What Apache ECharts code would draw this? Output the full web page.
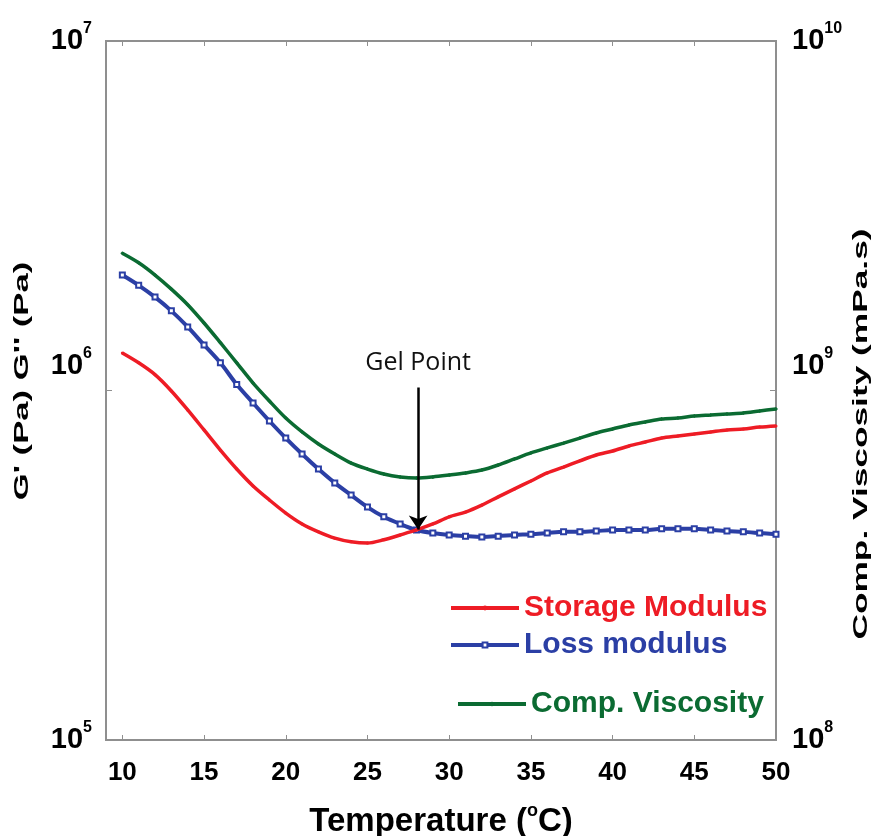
<!DOCTYPE html>
<html><head><meta charset="utf-8">
<script src="https://cdn.jsdelivr.net/npm/echarts@6/dist/echarts.min.js"></script>
<style>html,body{margin:0;padding:0;background:#fff}#c{width:878px;height:836px}</style>
</head><body><div id="c"></div>
<script>
// ---- data ----
const temperature = [10,11,12,13,14,15,16,17,18,19,20,21,22,23,24,25,26,27,28,29,30,31,32,33,34,35,36,37,38,39,40,41,42,43,44,45,46,47,48,49,50];
const storageModulus = [1.28e6,1.20e6,1.11e6,9.97e5,8.80e5,7.71e5,6.75e5,5.96e5,5.33e5,4.86e5,4.46e5,4.15e5,3.94e5,3.78e5,3.69e5,3.66e5,3.74e5,3.86e5,3.99e5,4.15e5,4.35e5,4.49e5,4.70e5,4.96e5,5.23e5,5.51e5,5.81e5,6.04e5,6.29e5,6.54e5,6.71e5,6.94e5,7.12e5,7.31e5,7.41e5,7.51e5,7.61e5,7.71e5,7.76e5,7.86e5,7.92e5];
const lossModulus = [2.14e6,2.00e6,1.85e6,1.69e6,1.52e6,1.35e6,1.20e6,1.04e6,9.21e5,8.18e5,7.31e5,6.58e5,5.96e5,5.44e5,5.02e5,4.64e5,4.35e5,4.15e5,3.99e5,3.91e5,3.86e5,3.83e5,3.81e5,3.83e5,3.86e5,3.88e5,3.91e5,3.94e5,3.94e5,3.96e5,3.99e5,3.99e5,3.99e5,4.02e5,4.02e5,4.02e5,3.99e5,3.96e5,3.94e5,3.91e5,3.88e5];
const complexViscosity = [2.47e9,2.32e9,2.14e9,1.95e9,1.76e9,1.56e9,1.37e9,1.20e9,1.05e9,9.33e8,8.34e8,7.61e8,7.03e8,6.58e8,6.20e8,5.96e8,5.77e8,5.66e8,5.62e8,5.66e8,5.73e8,5.81e8,5.92e8,6.12e8,6.37e8,6.63e8,6.85e8,7.07e8,7.31e8,7.56e8,7.76e8,7.97e8,8.13e8,8.29e8,8.34e8,8.45e8,8.51e8,8.57e8,8.62e8,8.74e8,8.85e8];
const xTickValues = [10,15,20,25,30,35,40,45,50];
const seriesNames = ['Storage Modulus','Loss modulus','Comp. Viscosity'];
const gelPointT = 28.1;
const gelArrowTop = 1.02e6;
const gelArrowTip = 4.0e5;

const RED = '#ee1c25', BLUE = '#2b3fa5', GREEN = '#0b6b32';
const FRAME = '#8f8f8f';
const FONT = "'Liberation Sans', Arial, sans-serif";

const pairs = ys => temperature.map((t, i) => [t, ys[i]]);

const supRich = {
  b: {fontSize: 29, fontWeight: 'bold', fontFamily: FONT, color: '#000', lineHeight: 40},
  s: {fontSize: 16, fontWeight: 'bold', fontFamily: FONT, color: '#000', verticalAlign: 'top'},
  g: {fontSize: 10, lineHeight: 50}
};
function powLabel(midExp) {
  return function (v) {
    const e = Math.round(Math.log10(v));
    return e === midExp ? '{b|10}{s|' + e + '}\n{g| }' : '{b|10}{s|' + e + '}';
  };
}

const chart = echarts.init(document.getElementById('c'), null, {renderer: 'canvas'});
chart.setOption({
  animation: false,
  backgroundColor: '#fff',
  grid: {left: 106, right: 102, top: 41, bottom: 96, containLabel: false, outerBoundsMode: 'none',
    show: true, borderColor: FRAME, borderWidth: 2, backgroundColor: 'transparent'},
  xAxis: [{
    type: 'value', min: 9, max: 50, position: 'bottom',
    axisLine: {show: true, lineStyle: {color: FRAME, width: 2}},
    axisTick: {show: true, inside: true, length: 5, customValues: xTickValues, lineStyle: {color: FRAME}},
    axisLabel: {customValues: xTickValues, margin: 20, fontSize: 26, fontWeight: 'bold', fontFamily: FONT, color: '#000'},
    splitLine: {show: false},
    name: 'Temperature ({o|o}C)', nameLocation: 'middle', nameGap: 62,
    nameTextStyle: {fontSize: 33, fontWeight: 'bold', fontFamily: FONT, color: '#000', lineHeight: 40,
      rich: {o: {fontSize: 18, fontWeight: 'bold', fontFamily: FONT, color: '#000', verticalAlign: 'top'}}}
  }, {
    type: 'value', min: 9, max: 50, position: 'top',
    axisLine: {show: true, lineStyle: {color: FRAME, width: 2}},
    axisTick: {show: true, inside: true, length: 5, customValues: xTickValues, lineStyle: {color: FRAME}},
    axisLabel: {show: false, customValues: xTickValues},
    splitLine: {show: false}
  }],
  yAxis: [{
    type: 'log', logBase: 10, min: 1e5, max: 1e7, position: 'left',
    axisLine: {show: true, lineStyle: {color: FRAME, width: 2}},
    axisTick: {show: true, inside: true, length: 6, lineStyle: {color: FRAME}},
    minorTick: {show: false}, splitLine: {show: false},
    axisLabel: {margin: 14, formatter: powLabel(6), rich: supRich}
  }, {
    type: 'log', logBase: 10, min: 1e8, max: 1e10, position: 'right',
    axisLine: {show: true, lineStyle: {color: FRAME, width: 2}},
    axisTick: {show: true, inside: true, length: 6, lineStyle: {color: FRAME}},
    minorTick: {show: false}, splitLine: {show: false},
    axisLabel: {margin: 16, formatter: powLabel(9), rich: supRich}
  }],
  legend: [
    {data: [{name: seriesNames[0], textStyle: {color: RED}}], left: 449, top: 592},
    {data: [{name: seriesNames[1], textStyle: {color: BLUE}}], left: 449, top: 629},
    {data: [{name: seriesNames[2], textStyle: {color: GREEN}}], left: 456, top: 688}
  ].map(l => Object.assign({
    orient: 'horizontal', itemWidth: 68, itemHeight: 6, padding: 0, selectedMode: false,
    lineStyle: {width: 4},
    textStyle: {fontSize: 30, fontWeight: 'bold', fontFamily: FONT, lineHeight: 32}
  }, l)),
  series: [{
    name: seriesNames[0], type: 'line', xAxisIndex: 0, yAxisIndex: 0, data: pairs(storageModulus),
    smooth: 0.3, symbol: 'circle', symbolSize: 3,
    lineStyle: {color: RED, width: 3.5}, itemStyle: {color: RED}, z: 3,
    markLine: {
      silent: true, animation: false,
      symbol: ['none', 'arrow'], symbolSize: 14,
      lineStyle: {color: '#000', width: 2.5, type: 'solid'},
      label: {show: true, position: 'start', formatter: 'Gel Point', distance: 12,
        fontSize: 25, fontFamily: "'Open Sans', 'Noto Sans', sans-serif", color: '#111'},
      emphasis: {disabled: true},
      data: [[{coord: [gelPointT, gelArrowTop]}, {coord: [gelPointT, gelArrowTip]}]]
    }
  }, {
    name: seriesNames[1], type: 'line', xAxisIndex: 0, yAxisIndex: 0, data: pairs(lossModulus),
    smooth: 0.3, symbol: 'emptyRect', symbolSize: 5,
    lineStyle: {color: BLUE, width: 4}, itemStyle: {color: BLUE, borderWidth: 1.2}, z: 2
  }, {
    name: seriesNames[2], type: 'line', xAxisIndex: 0, yAxisIndex: 1, data: pairs(complexViscosity),
    smooth: 0.3, symbol: 'diamond', symbolSize: 4,
    lineStyle: {color: GREEN, width: 3.5}, itemStyle: {color: GREEN}, z: 2
  }],
  graphic: [{
    type: 'text', x: 22, y: 381, rotation: Math.PI / 2, scaleX: 1.65,
    style: {text: "G' (Pa) G'' (Pa)", fontSize: 21, fontWeight: 'bold', fontFamily: FONT, fill: '#000', align: 'center', verticalAlign: 'middle'}
  }, {
    type: 'text', x: 861, y: 434, rotation: Math.PI / 2, scaleX: 1.68,
    style: {text: 'Comp. Viscosity (mPa.s)', fontSize: 21, fontWeight: 'bold', fontFamily: FONT, fill: '#000', align: 'center', verticalAlign: 'middle'}
  }]
});
</script>
</body></html>
